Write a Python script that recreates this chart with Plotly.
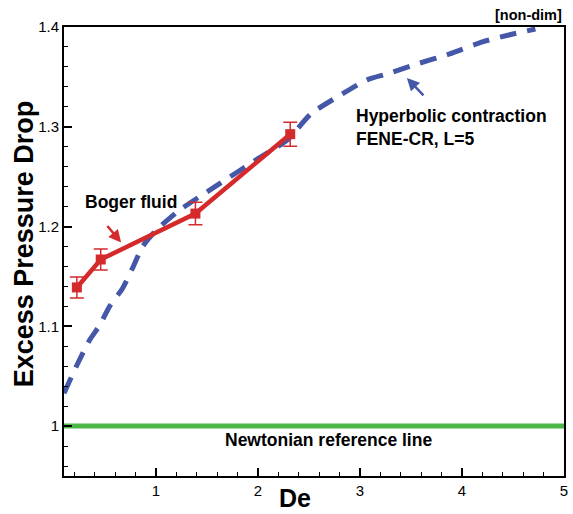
import plotly.graph_objects as go

# Boger fluid experimental data
boger_de = [0.226, 0.46, 1.388, 2.317]
boger_dp = [1.139, 1.167, 1.213, 1.2926]
boger_err = [0.0105, 0.0105, 0.0113, 0.012]

# FENE-CR, L=5 simulation (hyperbolic contraction)
fene_de = [0.1, 0.226, 0.35, 0.45, 0.547, 0.673, 0.77, 0.87, 1.0, 1.226, 1.58,
           2.0, 2.29, 2.52, 2.78, 3.07, 3.265, 3.56, 3.88, 4.2, 4.46, 4.72]
fene_dp = [1.033, 1.061, 1.086, 1.101, 1.12, 1.138, 1.158, 1.18, 1.196, 1.216, 1.24,
           1.268, 1.287, 1.313, 1.33, 1.347, 1.353, 1.363, 1.373, 1.385, 1.392, 1.398]

# Newtonian reference line
newt_de = [0.1, 5.0]
newt_dp = [1.0, 1.0]

FONT = "Liberation Sans, Arial, sans-serif"
RED = "#d42a2c"
BLUE = "#4457a8"
GREEN = "#4cb848"

fig = go.Figure()
fig.add_trace(go.Scatter(x=newt_de, y=newt_dp, mode="lines",
                         line=dict(color=GREEN, width=5), showlegend=False))
fig.add_trace(go.Scatter(x=fene_de, y=fene_dp, mode="lines",
                         line=dict(color=BLUE, width=5, dash="17px,11px", shape="spline", smoothing=0.6),
                         showlegend=False))
fig.add_trace(go.Scatter(x=boger_de, y=boger_dp, mode="lines+markers",
                         line=dict(color=RED, width=4.5),
                         marker=dict(symbol="square", size=10, color=RED),
                         error_y=dict(type="data", array=boger_err, visible=True,
                                      color=RED, thickness=1.5, width=7),
                         showlegend=False))

ann = dict(font=dict(family=FONT, size=17.5, color="black"), showarrow=False)
fig.add_annotation(x=0.282, y=1.2247, xref="x", yref="y", xanchor="left", yanchor="middle",
                   text="<b>Boger fluid</b>", **ann)
fig.add_annotation(x=2.945, y=1.299, xref="x", yref="y", xanchor="left", yanchor="middle",
                   text="<b>Hyperbolic contraction<br>FENE-CR, L=5</b>", align="left", **ann)
fig.add_annotation(x=1.663, y=0.986, xref="x", yref="y", xanchor="left", yanchor="middle",
                   text="<b>Newtonian reference line</b>", **ann)
fig.add_annotation(x=1.0, y=1.027, xref="paper", yref="paper", xanchor="right", yanchor="middle",
                   text="<b>[non-dim]</b>", showarrow=False,
                   font=dict(family=FONT, size=14.5, color="black"))
# arrows
fig.add_annotation(x=0.66, y=1.184, xref="x", yref="y", ax=-15, ay=-18, text="",
                   showarrow=True, arrowhead=2, arrowsize=1, arrowwidth=2.5, arrowcolor=RED)
fig.add_annotation(x=3.46, y=1.349, xref="x", yref="y", ax=18, ay=19, text="",
                   showarrow=True, arrowhead=2, arrowsize=1, arrowwidth=2.5, arrowcolor=BLUE)
# axis titles
fig.add_annotation(x=0.462, y=-38 / 449, xref="paper", yref="paper", xanchor="center", yanchor="bottom",
                   text="<b>De</b>", showarrow=False, font=dict(family=FONT, size=25, color="black"))
fig.add_annotation(x=-0.081, y=0.517, xref="paper", yref="paper", xanchor="center", yanchor="middle",
                   text="<b>Excess Pressure Drop</b>", textangle=-90, showarrow=False,
                   font=dict(family=FONT, size=27, color="black"))

axis_common = dict(showline=True, linecolor="black", linewidth=2, mirror=True,
                   ticks="inside", ticklen=8, tickwidth=1.5, tickcolor="black",
                   showgrid=False, zeroline=False,
                   tickfont=dict(family=FONT, size=15, color="black"))
fig.update_xaxes(range=[0.1, 5], tick0=0, dtick=1,
                 minor=dict(ticks="inside", ticklen=4, dtick=0.2, tick0=0, tickcolor="black", tickwidth=1),
                 **axis_common)
fig.update_yaxes(range=[0.95, 1.4], tick0=1, dtick=0.1,
                 minor=dict(ticks="inside", ticklen=4, dtick=0.02, tick0=1, tickcolor="black", tickwidth=1),
                 **axis_common)

fig.update_layout(width=573, height=514, margin=dict(l=64, r=5, t=27, b=38),
                  plot_bgcolor="white", paper_bgcolor="white",
                  font=dict(family=FONT))
fig.write_html("out.html")
